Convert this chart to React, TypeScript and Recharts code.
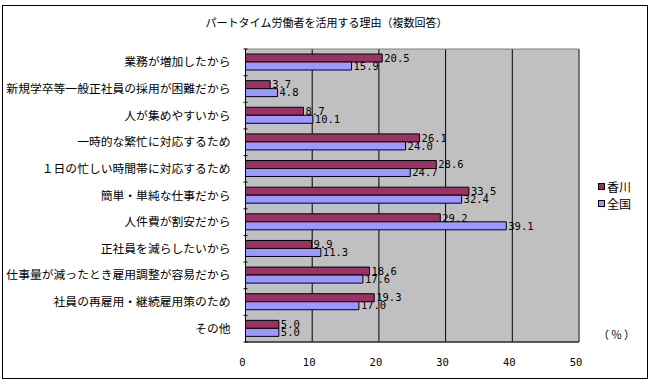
import React from "react";
import { BarChart, Bar, XAxis, YAxis, CartesianGrid, LabelList, Legend, ReferenceArea } from "recharts";

const categories = [
  "業務が増加したから",
  "新規学卒等一般正社員の採用が困難だから",
  "人が集めやすいから",
  "一時的な繁忙に対応するため",
  "１日の忙しい時間帯に対応するため",
  "簡単・単純な仕事だから",
  "人件費が割安だから",
  "正社員を減らしたいから",
  "仕事量が減ったとき雇用調整が容易だから",
  "社員の再雇用・継続雇用策のため",
  "その他",
];
const kagawa = [20.5, 3.7, 8.7, 26.1, 28.6, 33.5, 29.2, 9.9, 18.6, 19.3, 5.0];
const zenkoku = [15.9, 4.8, 10.1, 24.0, 24.7, 32.4, 39.1, 11.3, 17.6, 17.0, 5.0];
const xTicks = [0, 10, 20, 30, 40, 50];
const seriesNames = ["香川", "全国"];
const colors = ["#993366", "#9999FF"];

const data = categories.map((c, i) => ({ name: c, kagawa: kagawa[i], zenkoku: zenkoku[i] }));

const W = 653;
const H = 384;
const LEGEND_W = 50;
const M = { top: 49, right: 74 - LEGEND_W, bottom: 12, left: 0 };
const XH = 30;
const band = (H - M.top - M.bottom - XH) / categories.length;

const JP = "'Noto Sans CJK JP', sans-serif";
const MONO = "'DejaVu Sans Mono', monospace";

const YTick = (props: any) => {
  const { x, y, payload, index } = props;
  const ax = x + 6;
  return (
    <g>
      <text x={ax - 13} y={y} dy={4} textAnchor="end" fontSize={11.8} fontFamily={JP} fill="#000">
        {payload.value}
      </text>
      <line x1={ax} x2={ax + 4} y1={y - band / 2} y2={y - band / 2} stroke="#000" />
      {index === categories.length - 1 ? (
        <line x1={ax} x2={ax + 4} y1={y + band / 2} y2={y + band / 2} stroke="#000" />
      ) : null}
    </g>
  );
};

const LegendContent = () => (
  <div style={{ fontFamily: JP, fontSize: 12, color: "#000" }}>
    {seriesNames.map((n, i) => (
      <div key={n} style={{ display: "flex", alignItems: "center", height: 17, lineHeight: "17px" }}>
        <span
          style={{
            display: "inline-block",
            width: 5,
            height: 5,
            background: colors[i],
            border: "1px solid #000",
            marginRight: 2,
          }}
        />
        <span>{n}</span>
      </div>
    ))}
  </div>
);

const fmt = (v: any) => Number(v).toFixed(1);
const labelStyle = { fontSize: 10.5, fontFamily: MONO, fill: "#000" };

export default function App() {
  return (
    <div style={{ position: "absolute", left: 0, top: 0, width: W, height: H, background: "#fff" }}>
      <div
        style={{
          position: "absolute",
          left: 2,
          top: 5,
          width: 646,
          height: 374,
          border: "1px solid #000",
          boxSizing: "border-box",
        }}
      />
      <div
        style={{
          position: "absolute",
          left: 0,
          top: 14,
          width: W,
          textAlign: "center",
          fontFamily: JP,
          fontSize: 11,
          color: "#000",
        }}
      >
        パートタイム労働者を活用する理由（複数回答）
      </div>
      <div
        style={{
          position: "absolute",
          left: 598,
          top: 326,
          fontFamily: JP,
          fontSize: 11,
          letterSpacing: 2,
          color: "#000",
        }}
      >
        （％）
      </div>
      <div style={{ position: "absolute", left: 0, top: 0 }}>
        <BarChart width={W} height={H} data={data} layout="vertical" margin={M} barGap={0}>
          <CartesianGrid horizontal={false} stroke="#000" fill="#C0C0C0" fillOpacity={1} />
          <ReferenceArea x1={0} x2={50} fill="none" stroke="#808080" strokeWidth={1} ifOverflow="visible" />
          <XAxis
            type="number"
            domain={[0, 50]}
            ticks={xTicks}
            axisLine={{ stroke: "#000" }}
            tickLine={false}
            height={XH}
            tickMargin={11}
            tick={{ fontSize: 10.5, fontFamily: MONO, fill: "#000", dx: -3 }}
          />
          <YAxis
            type="category"
            dataKey="name"
            width={245.5}
            axisLine={{ stroke: "#000" }}
            tickLine={false}
            tick={<YTick />}
            interval={0}
          />
          <Legend
            layout="vertical"
            align="right"
            verticalAlign="middle"
            content={<LegendContent />}
            wrapperStyle={{ position: "absolute", left: 598, top: 178, width: LEGEND_W }}
          />
          <Bar dataKey="kagawa" name={seriesNames[0]} fill={colors[0]} stroke="#000" strokeWidth={1} barSize={8} isAnimationActive={false}>
            <LabelList dataKey="kagawa" position="right" offset={2} formatter={fmt} style={labelStyle} />
          </Bar>
          <Bar dataKey="zenkoku" name={seriesNames[1]} fill={colors[1]} stroke="#000" strokeWidth={1} barSize={8} isAnimationActive={false}>
            <LabelList dataKey="zenkoku" position="right" offset={2} formatter={fmt} style={labelStyle} />
          </Bar>
        </BarChart>
      </div>
    </div>
  );
}
